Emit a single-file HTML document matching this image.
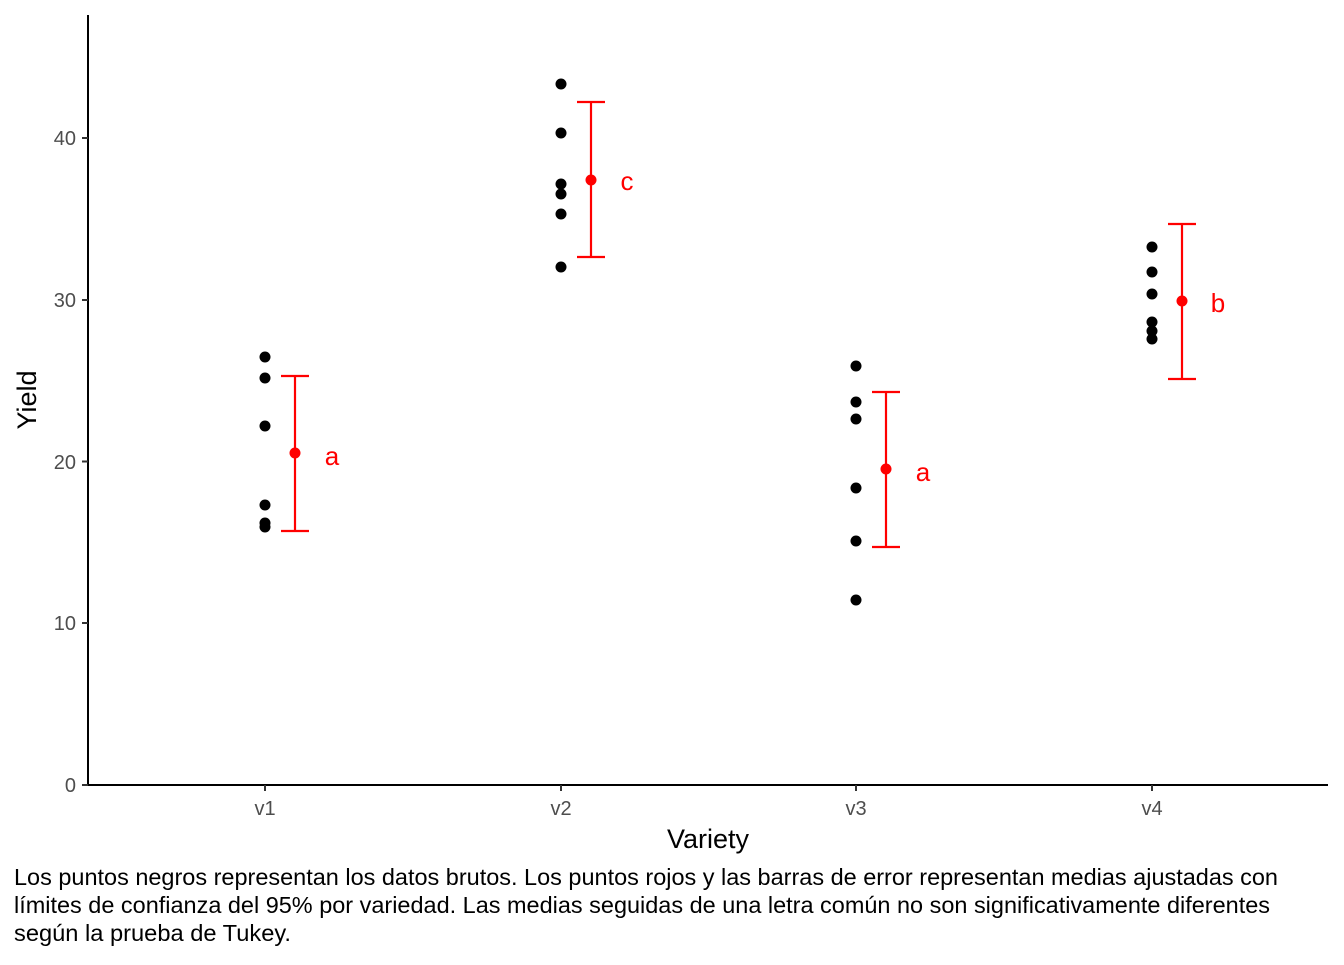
<!DOCTYPE html>
<html><head><meta charset="utf-8"><style>body{margin:0;background:#fff}</style></head><body>
<svg width="1344" height="960" xmlns="http://www.w3.org/2000/svg" font-family="Liberation Sans, Arial, sans-serif">
<rect width="1344" height="960" fill="#fff"/>
<g stroke="#000" stroke-width="2"><line x1="88" y1="15" x2="88" y2="785"/><line x1="88" y1="785" x2="1328" y2="785"/></g>
<g stroke="#333" stroke-width="2">
<line x1="82" y1="785" x2="88" y2="785"/><line x1="82" y1="623" x2="88" y2="623"/><line x1="82" y1="461.5" x2="88" y2="461.5"/><line x1="82" y1="300" x2="88" y2="300"/><line x1="82" y1="138" x2="88" y2="138"/>
<line x1="265" y1="785" x2="265" y2="791"/><line x1="561" y1="785" x2="561" y2="791"/><line x1="856" y1="785" x2="856" y2="791"/><line x1="1152" y1="785" x2="1152" y2="791"/>
</g>
<g fill="#4d4d4d" font-size="20" text-anchor="end">
<text x="76" y="792">0</text><text x="76" y="630">10</text><text x="76" y="469">20</text><text x="76" y="307">30</text><text x="76" y="145">40</text>
</g>
<g fill="#4d4d4d" font-size="20" text-anchor="middle">
<text x="265" y="815">v1</text><text x="561" y="815">v2</text><text x="856" y="815">v3</text><text x="1152" y="815">v4</text>
</g>
<text x="708" y="848" font-size="27" text-anchor="middle">Variety</text>
<text transform="translate(36,400) rotate(-90)" font-size="27" text-anchor="middle">Yield</text>
<g fill="#000">
<circle cx="265" cy="357" r="5.5"/><circle cx="265" cy="378" r="5.5"/><circle cx="265" cy="426" r="5.5"/><circle cx="265" cy="505" r="5.5"/><circle cx="265" cy="523" r="5.5"/><circle cx="265" cy="527" r="5.5"/>
<circle cx="561" cy="84" r="5.5"/><circle cx="561" cy="133" r="5.5"/><circle cx="561" cy="184" r="5.5"/><circle cx="561" cy="194" r="5.5"/><circle cx="561" cy="214" r="5.5"/><circle cx="561" cy="267" r="5.5"/>
<circle cx="856" cy="366" r="5.5"/><circle cx="856" cy="402" r="5.5"/><circle cx="856" cy="419" r="5.5"/><circle cx="856" cy="488" r="5.5"/><circle cx="856" cy="541" r="5.5"/><circle cx="856" cy="600" r="5.5"/>
<circle cx="1152" cy="247" r="5.5"/><circle cx="1152" cy="272" r="5.5"/><circle cx="1152" cy="294" r="5.5"/><circle cx="1152" cy="322" r="5.5"/><circle cx="1152" cy="331" r="5.5"/><circle cx="1152" cy="339" r="5.5"/>
</g>
<g stroke="#f00" stroke-width="2.2" fill="none">
<path d="M295 376V531M281 376H309M281 531H309"/>
<path d="M591 102V257M577 102H605M577 257H605"/>
<path d="M886 392V547M872 392H900M872 547H900"/>
<path d="M1182 224V379M1168 224H1196M1168 379H1196"/>
</g>
<g fill="#f00"><circle cx="295" cy="453" r="5.5"/><circle cx="591" cy="180" r="5.5"/><circle cx="886" cy="469" r="5.5"/><circle cx="1182" cy="301" r="5.5"/></g>
<g fill="#f00" font-size="26" text-anchor="middle">
<text x="332" y="465">a</text><text x="627" y="190">c</text><text x="923" y="481">a</text><text x="1218" y="312">b</text>
</g>
<g font-size="23" fill="#000">
<text x="14" y="885" textLength="1264" lengthAdjust="spacingAndGlyphs">Los puntos negros representan los datos brutos. Los puntos rojos y las barras de error representan medias ajustadas con</text>
<text x="14" y="913" textLength="1256" lengthAdjust="spacingAndGlyphs">límites de confianza del 95% por variedad. Las medias seguidas de una letra común no son significativamente diferentes</text>
<text x="14" y="941" textLength="277" lengthAdjust="spacingAndGlyphs">según la prueba de Tukey.</text>
</g>
</svg>
</body></html>
